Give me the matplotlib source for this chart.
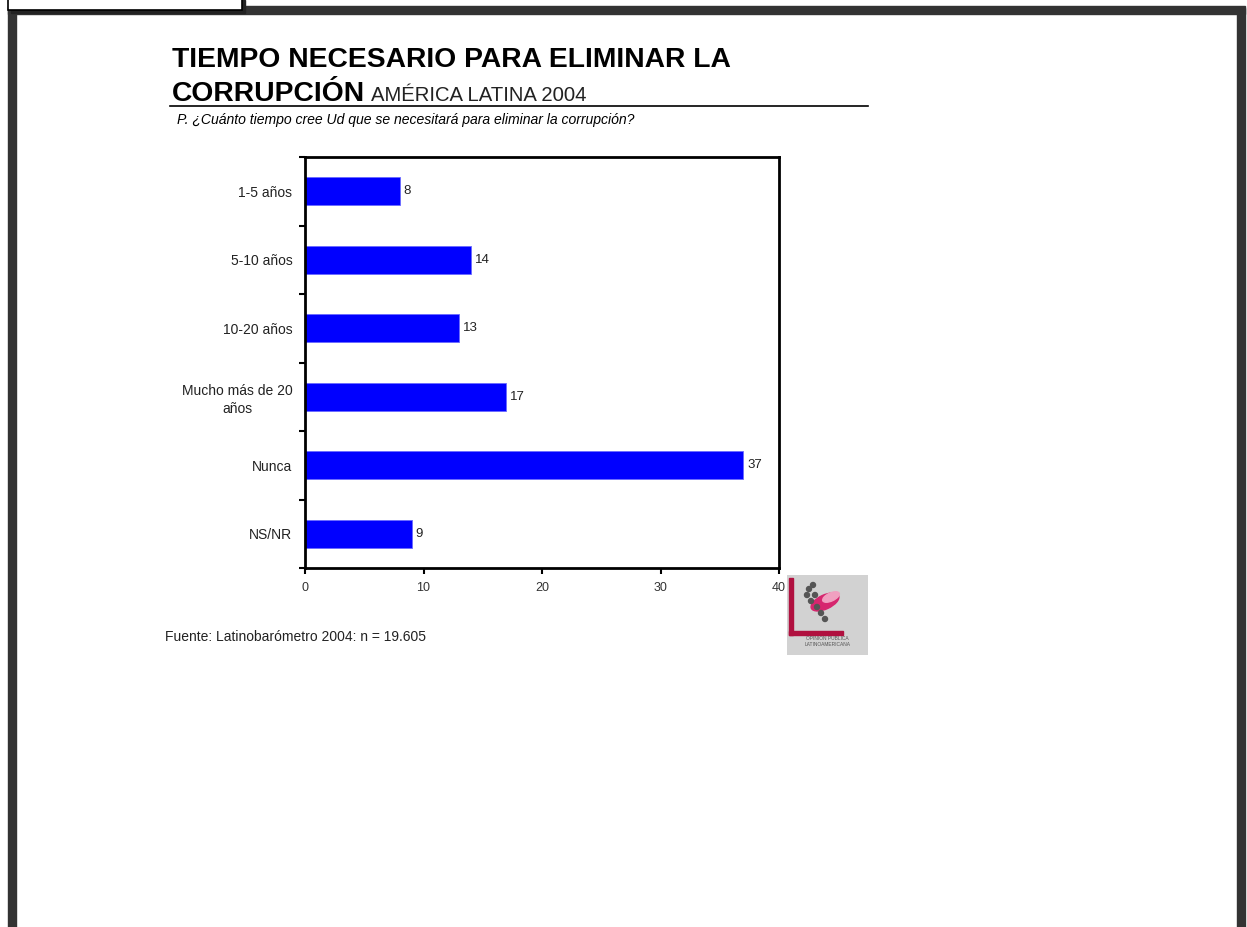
import matplotlib.pyplot as plt
import numpy as np
from matplotlib.patches import Rectangle, Ellipse

# Data ---------------------------------------------------------------------------- #
categories = ["1-5 años", "5-10 años", "10-20 años", "Mucho más de 20\naños", "Nunca", "NS/NR"]
values = [8, 14, 13, 17, 37, 9]
x_ticks = [0, 10, 20, 30, 40]

W, H = 1247, 927
plt.rcParams["font.family"] = ["Liberation Sans", "DejaVu Sans"]

fig = plt.figure(figsize=(W / 100, H / 100), dpi=100)


def fx(px):
    return px / W


def fy(py):
    return 1 - py / H


# Page frame ---------------------------------------------------------------------- #
frame = "#333333"
fig.patches.append(Rectangle((fx(8), fy(14)), fx(1237), 8 / H, transform=fig.transFigure,
                             color=frame, zorder=0))
fig.patches.append(Rectangle((fx(8), 0), fx(8), fy(8), transform=fig.transFigure,
                             color=frame, zorder=0))
fig.patches.append(Rectangle((fx(1237), 0), fx(8), fy(8), transform=fig.transFigure,
                             color=frame, zorder=0))
# label box at top left (cut off by the page edge)
fig.patches.append(Rectangle((fx(11), fy(13)), fx(234), 13 / H, transform=fig.transFigure,
                             color="#222222", zorder=1))
fig.patches.append(Rectangle((fx(8), fy(10)), fx(234), 12 / H, transform=fig.transFigure,
                             facecolor="white", edgecolor="black", lw=1.2, zorder=2))

# Titles -------------------------------------------------------------------------- #
fig.text(fx(172), fy(67), "TIEMPO NECESARIO PARA ELIMINAR LA", fontsize=20.3,
         fontweight="bold", ha="left", va="baseline")
fig.text(fx(172), fy(101), "CORRUPCIÓN", fontsize=20.3, fontweight="bold",
         ha="left", va="baseline")
fig.text(fx(371), fy(101), "AMÉRICA LATINA 2004", fontsize=14.6, ha="left",
         va="baseline", color="#222222")
fig.add_artist(plt.Line2D([fx(170), fx(868)], [fy(106), fy(106)], color="black", lw=1.2))
fig.text(fx(177), fy(124), "P. ¿Cuánto tiempo cree Ud que se necesitará para eliminar la corrupción?",
         fontsize=10.1, style="italic", ha="left", va="baseline")

# Chart --------------------------------------------------------------------------- #
ax = fig.add_axes([fx(305), fy(568), fx(474), 411 / H])
y = np.arange(len(categories))
ax.barh(y, values, height=0.41, color="#0000ff", edgecolor="#6a6aff", lw=0.6)
for yi, v in zip(y, values):
    ax.text(v + 0.3, yi, str(v), va="center", ha="left", fontsize=9.5, color="#222222")

ax.set_ylim(len(categories) - 0.5, -0.5)
ax.set_xlim(0, 40)
ax.set_yticks(y)
ax.set_yticklabels(categories, fontsize=10, multialignment="center", color="#222222",
                   linespacing=1.35)
ax.set_yticks(np.arange(-0.5, len(categories), 1.0), minor=True)
ax.tick_params(axis="y", which="major", length=0, pad=9)
ax.tick_params(axis="y", which="minor", length=4, width=1.5, direction="out")
ax.set_xticks(x_ticks)
ax.set_xticklabels([str(t) for t in x_ticks], fontsize=9, color="#333333")
ax.tick_params(axis="x", length=4, width=1.5, direction="out", pad=6)
for s in ax.spines.values():
    s.set_linewidth(2)

# Source and logo ----------------------------------------------------------------- #
fig.text(fx(165), fy(641), "Fuente: Latinobarómetro 2004: n = 19.605", fontsize=10,
         ha="left", va="baseline", color="#222222")

lax = fig.add_axes([fx(787), fy(655), fx(81), 80 / H])
lax.set_xlim(0, 81)
lax.set_ylim(80, 0)
lax.axis("off")
lax.add_patch(Rectangle((0, 0), 81, 80, color="#d2d2d2"))
lax.add_patch(Rectangle((2, 3), 4, 57, color="#b0103f"))
lax.add_patch(Rectangle((2, 56), 54, 4, color="#b0103f"))
lax.add_patch(Ellipse((38, 27), 30, 14, angle=-25, color="#d6266e"))
lax.add_patch(Ellipse((44, 22), 18, 8, angle=-25, color="#f0a0c0"))
for cx, cy in [(22, 14), (28, 20), (24, 26), (30, 32), (34, 38), (38, 44), (20, 20), (26, 10)]:
    lax.add_patch(Ellipse((cx, cy), 5, 5, color="#555555"))
lax.text(40.5, 64, "OPINION PUBLICA", fontsize=3.5, ha="center", va="center", color="#555555")
lax.text(40.5, 70, "LATINOAMERICANA", fontsize=3.5, ha="center", va="center", color="#555555")

fig.savefig("out.png", dpi=100)
